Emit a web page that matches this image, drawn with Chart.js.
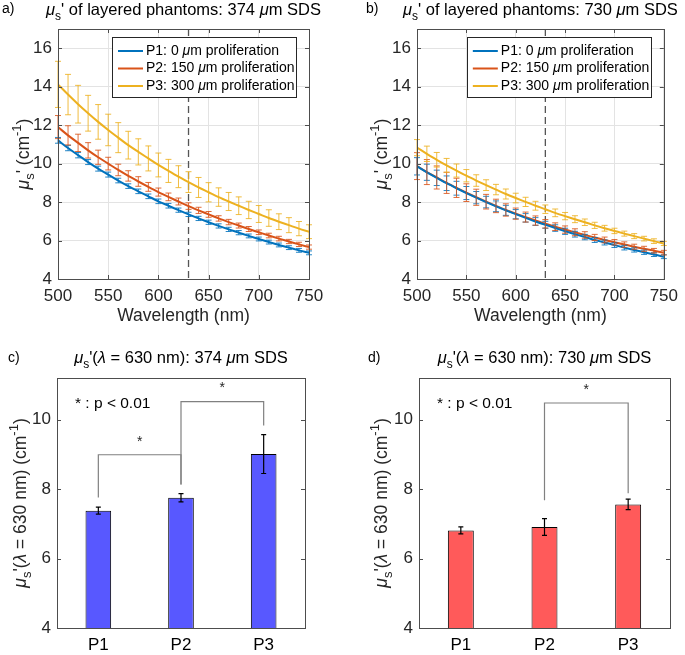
<!DOCTYPE html>
<html>
<head>
<meta charset="utf-8">
<script src="https://cdn.jsdelivr.net/npm/chart.js@4.4.1/dist/chart.umd.min.js"></script>
<style>
  body { margin: 0; background: #fff; }
  #wrap { position: relative; width: 685px; height: 655px; }
  canvas { position: absolute; }
</style>
</head>
<body>
<div id="wrap">
  <canvas id="ca" width="342" height="330" style="left:0;top:0"></canvas>
  <canvas id="cb" width="343" height="330" style="left:342px;top:0"></canvas>
  <canvas id="cc" width="342" height="325" style="left:0;top:330px"></canvas>
  <canvas id="cd" width="343" height="325" style="left:342px;top:330px"></canvas>
</div>
<script>
// wavelengths (nm)
const wavelengths = [500,510,520,530,540,550,560,570,580,590,600,610,620,630,640,650,660,670,680,690,700,710,720,730,740,750];
const seriesNames = ["P1: 0 μm proliferation", "P2: 150 μm proliferation", "P3: 300 μm proliferation"];

// panel a: 374 um SDS
const a_P1 = [11.21,10.81,10.44,10.08,9.74,9.43,9.12,8.83,8.56,8.30,8.04,7.81,7.58,7.36,7.15,6.95,6.76,6.58,6.41,6.24,6.08,5.92,5.77,5.63,5.49,5.36];
const a_P2 = [11.90,11.47,11.08,10.69,10.33,10.00,9.67,9.36,9.07,8.79,8.52,8.27,8.03,7.79,7.57,7.36,7.15,6.96,6.78,6.60,6.43,6.26,6.10,5.95,5.80,5.66];
const a_P3 = [14.12,13.59,13.09,12.62,12.17,11.75,11.35,10.96,10.61,10.27,9.93,9.62,9.32,9.04,8.76,8.51,8.26,8.03,7.81,7.59,7.38,7.17,6.98,6.80,6.62,6.46];
const a_P1_err = [0.15,0.14,0.14,0.13,0.13,0.13,0.12,0.12,0.12,0.12,0.12,0.12,0.11,0.11,0.11,0.11,0.11,0.11,0.11,0.10,0.10,0.10,0.10,0.10,0.10,0.10];
const a_P2_err = [0.60,0.50,0.45,0.40,0.37,0.33,0.30,0.27,0.25,0.23,0.21,0.20,0.18,0.17,0.16,0.15,0.14,0.14,0.13,0.13,0.12,0.12,0.12,0.11,0.11,0.11];
const a_P3_err = [1.20,1.05,0.98,0.93,0.90,0.82,0.78,0.72,0.68,0.65,0.62,0.60,0.57,0.54,0.52,0.50,0.48,0.47,0.46,0.45,0.44,0.43,0.41,0.39,0.37,0.36];

// panel b: 730 um SDS
const b_P1 = [9.86,9.55,9.26,8.98,8.72,8.47,8.23,8.00,7.78,7.57,7.37,7.18,6.99,6.82,6.65,6.48,6.33,6.18,6.03,5.90,5.76,5.63,5.51,5.39,5.27,5.16];
const b_P2 = [9.87,9.56,9.28,9.00,8.74,8.49,8.25,8.02,7.80,7.59,7.40,7.22,7.04,6.87,6.72,6.57,6.43,6.29,6.16,6.03,5.91,5.79,5.68,5.57,5.47,5.37];
const b_P3 = [10.83,10.51,10.20,9.91,9.64,9.37,9.12,8.88,8.65,8.42,8.21,8.01,7.81,7.63,7.44,7.27,7.11,6.95,6.79,6.64,6.50,6.36,6.23,6.10,5.97,5.85];
const b_P1_err = [0.45,0.42,0.40,0.38,0.36,0.34,0.32,0.30,0.28,0.26,0.24,0.22,0.20,0.18,0.17,0.16,0.15,0.14,0.13,0.13,0.12,0.12,0.11,0.11,0.10,0.10];
const b_P2_err = [0.70,0.65,0.60,0.55,0.50,0.46,0.42,0.38,0.35,0.32,0.29,0.26,0.24,0.22,0.20,0.19,0.18,0.17,0.16,0.15,0.14,0.14,0.13,0.13,0.12,0.12];
const b_P3_err = [0.42,0.40,0.38,0.36,0.34,0.32,0.30,0.28,0.27,0.26,0.25,0.24,0.23,0.22,0.20,0.19,0.18,0.17,0.16,0.15,0.14,0.13,0.13,0.12,0.12,0.11];

// panels c, d: value at 630 nm
const barCats = ["P1", "P2", "P3"];
const c_vals = [7.38, 7.75, 9.01];
const c_err = [0.10, 0.12, 0.56];
const d_vals = [6.81, 6.91, 7.56];
const d_err = [0.10, 0.24, 0.15];
// brackets: [from, to, level, leg end at from, leg end at to]
const c_brackets = [[0, 1, 8.99, 7.76, 8.13], [1, 2, 10.52, 8.13, 9.83]];
const d_brackets = [[1, 2, 10.48, 7.68, 7.88]];

const lineColors = ['#0072BD', '#D95319', '#EDB120'];
const FONT = '"Liberation Sans", Arial, sans-serif';
const TXT = '#262626';

// rich text: parts = [text, style] with style '', 'i', 'sub', 'sup'
function partFont(p, size) {
  const s = (p[1] === 'sub' || p[1] === 'sup') ? Math.round(size * 0.72) : size;
  return (p[1] === 'i' ? 'italic ' : '') + s + 'px ' + FONT;
}
function drawRich(ctx, parts, x, y, size, align) {
  ctx.save();
  ctx.textBaseline = 'middle';
  ctx.textAlign = 'left';
  let total = 0;
  const w = parts.map(p => { ctx.font = partFont(p, size); const m = ctx.measureText(p[0]).width; total += m; return m; });
  let cx = align === 'left' ? x : x - total / 2;
  parts.forEach((p, i) => {
    ctx.font = partFont(p, size);
    let dy = 0;
    if (p[1] === 'sub') dy = size * 0.38;
    if (p[1] === 'sup') dy = -size * 0.38;
    ctx.fillText(p[0], cx, y + dy);
    cx += w[i];
  });
  ctx.restore();
}
function muParts(str) {
  const out = [];
  str.split('μ').forEach((s, i) => { if (i > 0) out.push(['μ', 'i']); if (s) out.push([s, '']); });
  return out;
}

// box + inward ticks
function drawBox(chart, grid) {
  const ctx = chart.ctx, ca = chart.chartArea;
  ctx.save();
  ctx.strokeStyle = '#4d4d4d';
  ctx.lineWidth = 1;
  ctx.beginPath();
  const xs = chart.scales.x, ys = chart.scales.y;
  ys.ticks.forEach(t => {
    const py = Math.round(ys.getPixelForValue(t.value)) + 0.5;
    ctx.moveTo(ca.left, py); ctx.lineTo(ca.left + 4, py);
    ctx.moveTo(ca.right, py); ctx.lineTo(ca.right - 4, py);
  });
  if (grid) {
    xs.ticks.forEach(t => {
      const px = Math.round(xs.getPixelForValue(t.value)) + 0.5;
      ctx.moveTo(px, ca.bottom); ctx.lineTo(px, ca.bottom - 4);
      ctx.moveTo(px, ca.top); ctx.lineTo(px, ca.top + 4);
    });
  }
  ctx.stroke();
  ctx.strokeRect(Math.round(ca.left) + 0.5, Math.round(ca.top) + 0.5, Math.round(ca.right - ca.left), Math.round(ca.bottom - ca.top));
  ctx.restore();
}

function linePanel(id, letter, sds, ys, errs) {
  const titleParts = [['μ', 'i'], ['s', 'sub'], ["' of layered phantoms: " + sds + ' ', ''], ['μ', 'i'], ['m SDS', '']];
  const first = id === 'ca';
  const annot = {
    id: 'annot' + id,
    beforeDatasetsDraw(chart) {
      const ctx = chart.ctx, ca = chart.chartArea, xs = chart.scales.x;
      const px = xs.getPixelForValue(630);
      ctx.save();
      ctx.strokeStyle = '#555';
      ctx.lineWidth = 1.3;
      ctx.setLineDash([7, 4]);
      ctx.beginPath(); ctx.moveTo(px, ca.top); ctx.lineTo(px, ca.bottom); ctx.stroke();
      ctx.restore();
    },
    afterDatasetsDraw(chart) {
      const ctx = chart.ctx, ca = chart.chartArea, xs = chart.scales.x, yS = chart.scales.y;
      // error bars
      ctx.save();
      ctx.lineWidth = 1;
      errs.forEach((e, i) => {
        ctx.strokeStyle = lineColors[i];
        ctx.globalAlpha = 0.85;
        ctx.beginPath();
        wavelengths.forEach((w, j) => {
          const px = xs.getPixelForValue(w);
          const t = yS.getPixelForValue(ys[i][j] + e[j]);
          const b = yS.getPixelForValue(ys[i][j] - e[j]);
          ctx.moveTo(px, t); ctx.lineTo(px, b);
          ctx.moveTo(px - 3, t); ctx.lineTo(px + 3, t);
          ctx.moveTo(px - 3, b); ctx.lineTo(px + 3, b);
        });
        ctx.stroke();
      });
      ctx.restore();
      drawBox(chart, true);
      // legend
      const lw = 184, lh = 60;
      const lx = ca.right - 13 - lw, ly = ca.top + 8;
      ctx.save();
      ctx.fillStyle = '#fff';
      ctx.fillRect(lx, ly, lw, lh);
      ctx.strokeStyle = '#262626';
      ctx.lineWidth = 1;
      ctx.strokeRect(Math.round(lx) + 0.5, Math.round(ly) + 0.5, lw, lh);
      chart.data.datasets.forEach((ds, i) => {
        const ry = ly + 14 + i * 17.5;
        ctx.strokeStyle = ds.borderColor;
        ctx.lineWidth = 2;
        ctx.beginPath(); ctx.moveTo(lx + 6, ry); ctx.lineTo(lx + 31, ry); ctx.stroke();
        ctx.fillStyle = '#000';
        drawRich(ctx, muParts(ds.label), lx + 34, ry, 14, 'left');
      });
      ctx.restore();
      // titles
      ctx.save();
      ctx.fillStyle = '#000';
      const cx = (ca.left + ca.right) / 2;
      drawRich(ctx, [[letter, '']], first ? 2 : 24, 9, 14, 'left');
      drawRich(ctx, titleParts, cx, 10, 16.5, 'center');
      ctx.fillStyle = TXT;
      drawRich(ctx, [['Wavelength (nm)', '']], cx, 316, 17.5, 'center');
      ctx.translate(first ? 24 : 40, (ca.top + ca.bottom) / 2);
      ctx.rotate(-Math.PI / 2);
      drawRich(ctx, [['μ', 'i'], ['s', 'sub'], ["' (cm", ''], ['-1', 'sup'], [')', '']], 0, 0, 17.5, 'center');
      ctx.restore();
    }
  };
  const leftW = first ? 58 : 75;
  const rightP = first ? 33 : 16;
  return new Chart(document.getElementById(id), {
    type: 'line',
    data: {
      datasets: ys.map((s, i) => ({
        label: seriesNames[i],
        data: wavelengths.map((w, j) => ({ x: w, y: s[j] })),
        borderColor: lineColors[i],
        backgroundColor: lineColors[i],
        borderWidth: 2,
        pointRadius: 0,
        cubicInterpolationMode: 'monotone'
      }))
    },
    options: {
      responsive: false,
      animation: false,
      layout: { padding: { top: 29, right: rightP, left: 0, bottom: 0 } },
      scales: {
        x: {
          type: 'linear', min: 500, max: 750,
          ticks: { stepSize: 50, padding: 7, color: TXT, font: { family: FONT, size: 17 }, maxRotation: 0 },
          grid: { color: '#e3e3e3', drawTicks: false },
          border: { display: false },
          afterFit(s) { s.height = 51; }
        },
        y: {
          min: 4, max: 17,
          ticks: { stepSize: 2, includeBounds: false, padding: 6, color: TXT, font: { family: FONT, size: 17 } },
          grid: { color: '#e3e3e3', drawTicks: false },
          border: { display: false },
          afterFit(s) { s.width = leftW; }
        }
      },
      plugins: { legend: { display: false }, tooltip: { enabled: false } }
    },
    plugins: [annot]
  });
}

function barPanel(id, letter, sds, vals, errs, brackets, fill) {
  const titleParts = [['μ', 'i'], ['s', 'sub'], ["'(", ''], ['λ', 'i'], [' = 630 nm): ' + sds + ' ', ''], ['μ', 'i'], ['m SDS', '']];
  const first = id === 'cc';
  const annot = {
    id: 'annot' + id,
    afterDatasetsDraw(chart) {
      const ctx = chart.ctx, ca = chart.chartArea, xs = chart.scales.x, yS = chart.scales.y;
      ctx.save();
      // error bars
      ctx.strokeStyle = '#000';
      ctx.lineWidth = 1.2;
      ctx.beginPath();
      vals.forEach((v, j) => {
        const px = xs.getPixelForValue(j);
        const t = yS.getPixelForValue(v + errs[j]);
        const b = yS.getPixelForValue(v - errs[j]);
        ctx.moveTo(px, t); ctx.lineTo(px, b);
        ctx.moveTo(px - 2.5, t); ctx.lineTo(px + 2.5, t);
        ctx.moveTo(px - 2.5, b); ctx.lineTo(px + 2.5, b);
      });
      ctx.stroke();
      // significance brackets
      ctx.strokeStyle = '#808080';
      ctx.lineWidth = 1.2;
      ctx.fillStyle = '#262626';
      brackets.forEach(br => {
        const x1 = xs.getPixelForValue(br[0]), x2 = xs.getPixelForValue(br[1]);
        const yl = yS.getPixelForValue(br[2]);
        ctx.beginPath();
        ctx.moveTo(x1, yS.getPixelForValue(br[3])); ctx.lineTo(x1, yl); ctx.lineTo(x2, yl);
        ctx.lineTo(x2, yS.getPixelForValue(br[4]));
        ctx.stroke();
        drawRich(ctx, [['*', '']], (x1 + x2) / 2, yl - 13, 14, 'center');
      });
      ctx.fillStyle = '#000';
      drawRich(ctx, [['* : p < 0.01', '']], ca.left + 18, yS.getPixelForValue(10.45), 15.5, 'left');
      ctx.restore();
      drawBox(chart, false);
      ctx.save();
      ctx.fillStyle = '#000';
      const cx = (ca.left + ca.right) / 2;
      drawRich(ctx, [[letter, '']], first ? 8 : 26, 28, 14, 'left');
      drawRich(ctx, titleParts, cx, 28, 16.5, 'center');
      ctx.fillStyle = TXT;
      ctx.translate(first ? 21 : 40, (ca.top + ca.bottom) / 2);
      ctx.rotate(-Math.PI / 2);
      drawRich(ctx, [['μ', 'i'], ['s', 'sub'], ["'(", ''], ['λ', 'i'], [' = 630 nm) (cm', ''], ['-1', 'sup'], [')', '']], 0, 0, 17.5, 'center');
      ctx.restore();
    }
  };
  const leftW = first ? 57 : 77;
  const rightP = first ? 37 : 15;
  return new Chart(document.getElementById(id), {
    type: 'bar',
    data: {
      labels: barCats,
      datasets: [{
        data: vals,
        backgroundColor: fill,
        borderColor: '#000',
        borderWidth: 1,
        barPercentage: 0.31,
        categoryPercentage: 1
      }]
    },
    options: {
      responsive: false,
      animation: false,
      layout: { padding: { top: 48, right: rightP, left: 0, bottom: 0 } },
      scales: {
        x: {
          ticks: { padding: 7, color: '#000', font: { family: FONT, size: 17 } },
          grid: { display: false, drawTicks: false },
          border: { display: false },
          afterFit(s) { s.height = 27; }
        },
        y: {
          min: 4, max: 11.2,
          ticks: { stepSize: 2, includeBounds: false, padding: 6, color: TXT, font: { family: FONT, size: 17 } },
          grid: { display: false, drawTicks: false },
          border: { display: false },
          afterFit(s) { s.width = leftW; }
        }
      },
      plugins: { legend: { display: false }, tooltip: { enabled: false } }
    },
    plugins: [annot]
  });
}

linePanel('ca', 'a)', '374', [a_P1, a_P2, a_P3], [a_P1_err, a_P2_err, a_P3_err]);
linePanel('cb', 'b)', '730', [b_P1, b_P2, b_P3], [b_P1_err, b_P2_err, b_P3_err]);
barPanel('cc', 'c)', '374', c_vals, c_err, c_brackets, '#5858FF');
barPanel('cd', 'd)', '730', d_vals, d_err, d_brackets, '#FF5A5A');
</script>
</body>
</html>
